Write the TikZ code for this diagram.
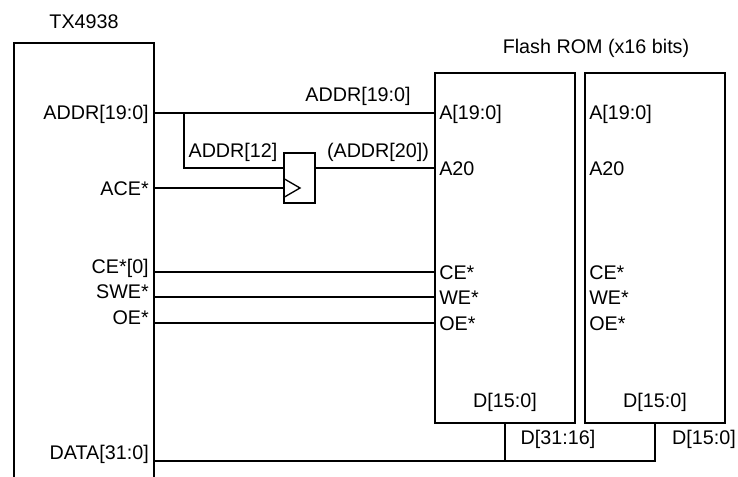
\documentclass[tikz,border=0pt]{standalone}
\usepackage{fontspec}
\setmainfont{Liberation Sans}
\usepackage{tikz}
\usetikzlibrary{positioning, calc}
\tikzset{
  sig/.style={line width=1pt},
  bus/.style={line width=1.35pt},
  lbl/.style={inner sep=0pt, font=\fontsize{14.8}{17}\selectfont},
  box/.style={draw, line width=1pt, minimum width=105pt, minimum height=262.5pt, inner sep=0pt}
}
\begin{document}
\begin{tikzpicture}[x=0.75pt,y=-0.75pt]
  \useasboundingbox (0,0) rectangle (738,477);
  % TX4938
  \coordinate (chipbl) at (14,477);
  \coordinate (chipbr) at (154,477);
  \draw[sig] (chipbl) |- (154,43) -- (chipbr);
  \node[lbl] (chipname) at (84,22) {TX4938};
  % flash parts
  \node[box] (flasha) at (505,248) {};
  \node[box] (flashb) at (655,248) {};
  \node[lbl] (flashname) at (596,48) {Flash ROM (x16 bits)};
  % latch
  \node[draw, line width=1pt, minimum width=23.25pt, minimum height=37.5pt, inner sep=0pt] (latch) at (299.5,178) {};
  \draw[sig] (284.5,179) -- (300,188) -- (284.5,197);
  % pins on the chip
  \coordinate (paddr) at (154,113);
  \coordinate (pace) at (154,188);
  \coordinate (pce) at (154,272);
  \coordinate (pswe) at (154,297);
  \coordinate (poe) at (154,323);
  \coordinate (pdata) at (154,461);
  % pins on the flash
  \coordinate (fa) at (flasha.west |- paddr);
  \coordinate (fat) at (flasha.west |- 0,168);
  \coordinate (fce) at (flasha.west |- pce);
  \coordinate (fwe) at (flasha.west |- pswe);
  \coordinate (foe) at (flasha.west |- poe);
  \coordinate (taddr) at (184,113);
  \coordinate (tdata) at (flasha.south |- pdata);
  \coordinate (bdata) at (flashb.south |- pdata);
  \coordinate (lin) at (latch.west |- 0,168);
  \coordinate (lout) at (latch.east |- 0,168);
  \coordinate (lclk) at (latch.west |- pace);
  % wires
  \draw[bus] (paddr) -- (fa);
  \draw[sig] (taddr) |- (lin);
  \draw[sig] (lout) -- (fat);
  \draw[sig] (pace) -- (lclk);
  \draw[sig] (pce) -- (fce);
  \draw[sig] (pswe) -- (fwe);
  \draw[sig] (poe) -- (foe);
  \draw[bus] (pdata) -- (bdata) -- (flashb.south);
  \draw[bus] (tdata) -- (flasha.south);
  % labels on the chip
  \node[lbl, anchor=east] (laddr) at (149,114) {ADDR[19:0]};
  \node[lbl, anchor=east] (lace) at (149,189) {ACE*};
  \node[lbl, anchor=east] (lce) at (149,268) {CE*[0]};
  \node[lbl, anchor=east] (lswe) at (149,292) {SWE*};
  \node[lbl, anchor=east] (loe) at (149,318) {OE*};
  \node[lbl, anchor=east] (ldata) at (149,454) {DATA[31:0]};
  % labels on the wires
  \node[lbl] (waddr) at (358,96) {ADDR[19:0]};
  \node[lbl] (wbit) at (233,152) {ADDR[12]};
  \node[lbl] (whigh) at (378,152) {(ADDR[20])};
  \node[lbl] (wd1) at (558,439) {D[31:16]};
  \node[lbl] (wd0) at (704,439) {D[15:0]};
  % labels in the flash parts
  \node[lbl, anchor=west] (aaddr) at (439,114) {A[19:0]};
  \node[lbl, anchor=west] (aat) at (439,169) {A20};
  \node[lbl, anchor=west] (ace) at (439,273) {CE*};
  \node[lbl, anchor=west] (awe) at (439,298) {WE*};
  \node[lbl, anchor=west] (aoe) at (439,324) {OE*};
  \node[lbl] (ad) at (505,402) {D[15:0]};
  \node[lbl, anchor=west] (baddr) at (589,114) {A[19:0]};
  \node[lbl, anchor=west] (bat) at (589,169) {A20};
  \node[lbl, anchor=west] (bce) at (589,273) {CE*};
  \node[lbl, anchor=west] (bwe) at (589,298) {WE*};
  \node[lbl, anchor=west] (boe) at (589,324) {OE*};
  \node[lbl] (bd) at (655,402) {D[15:0]};
\end{tikzpicture}
\end{document}
